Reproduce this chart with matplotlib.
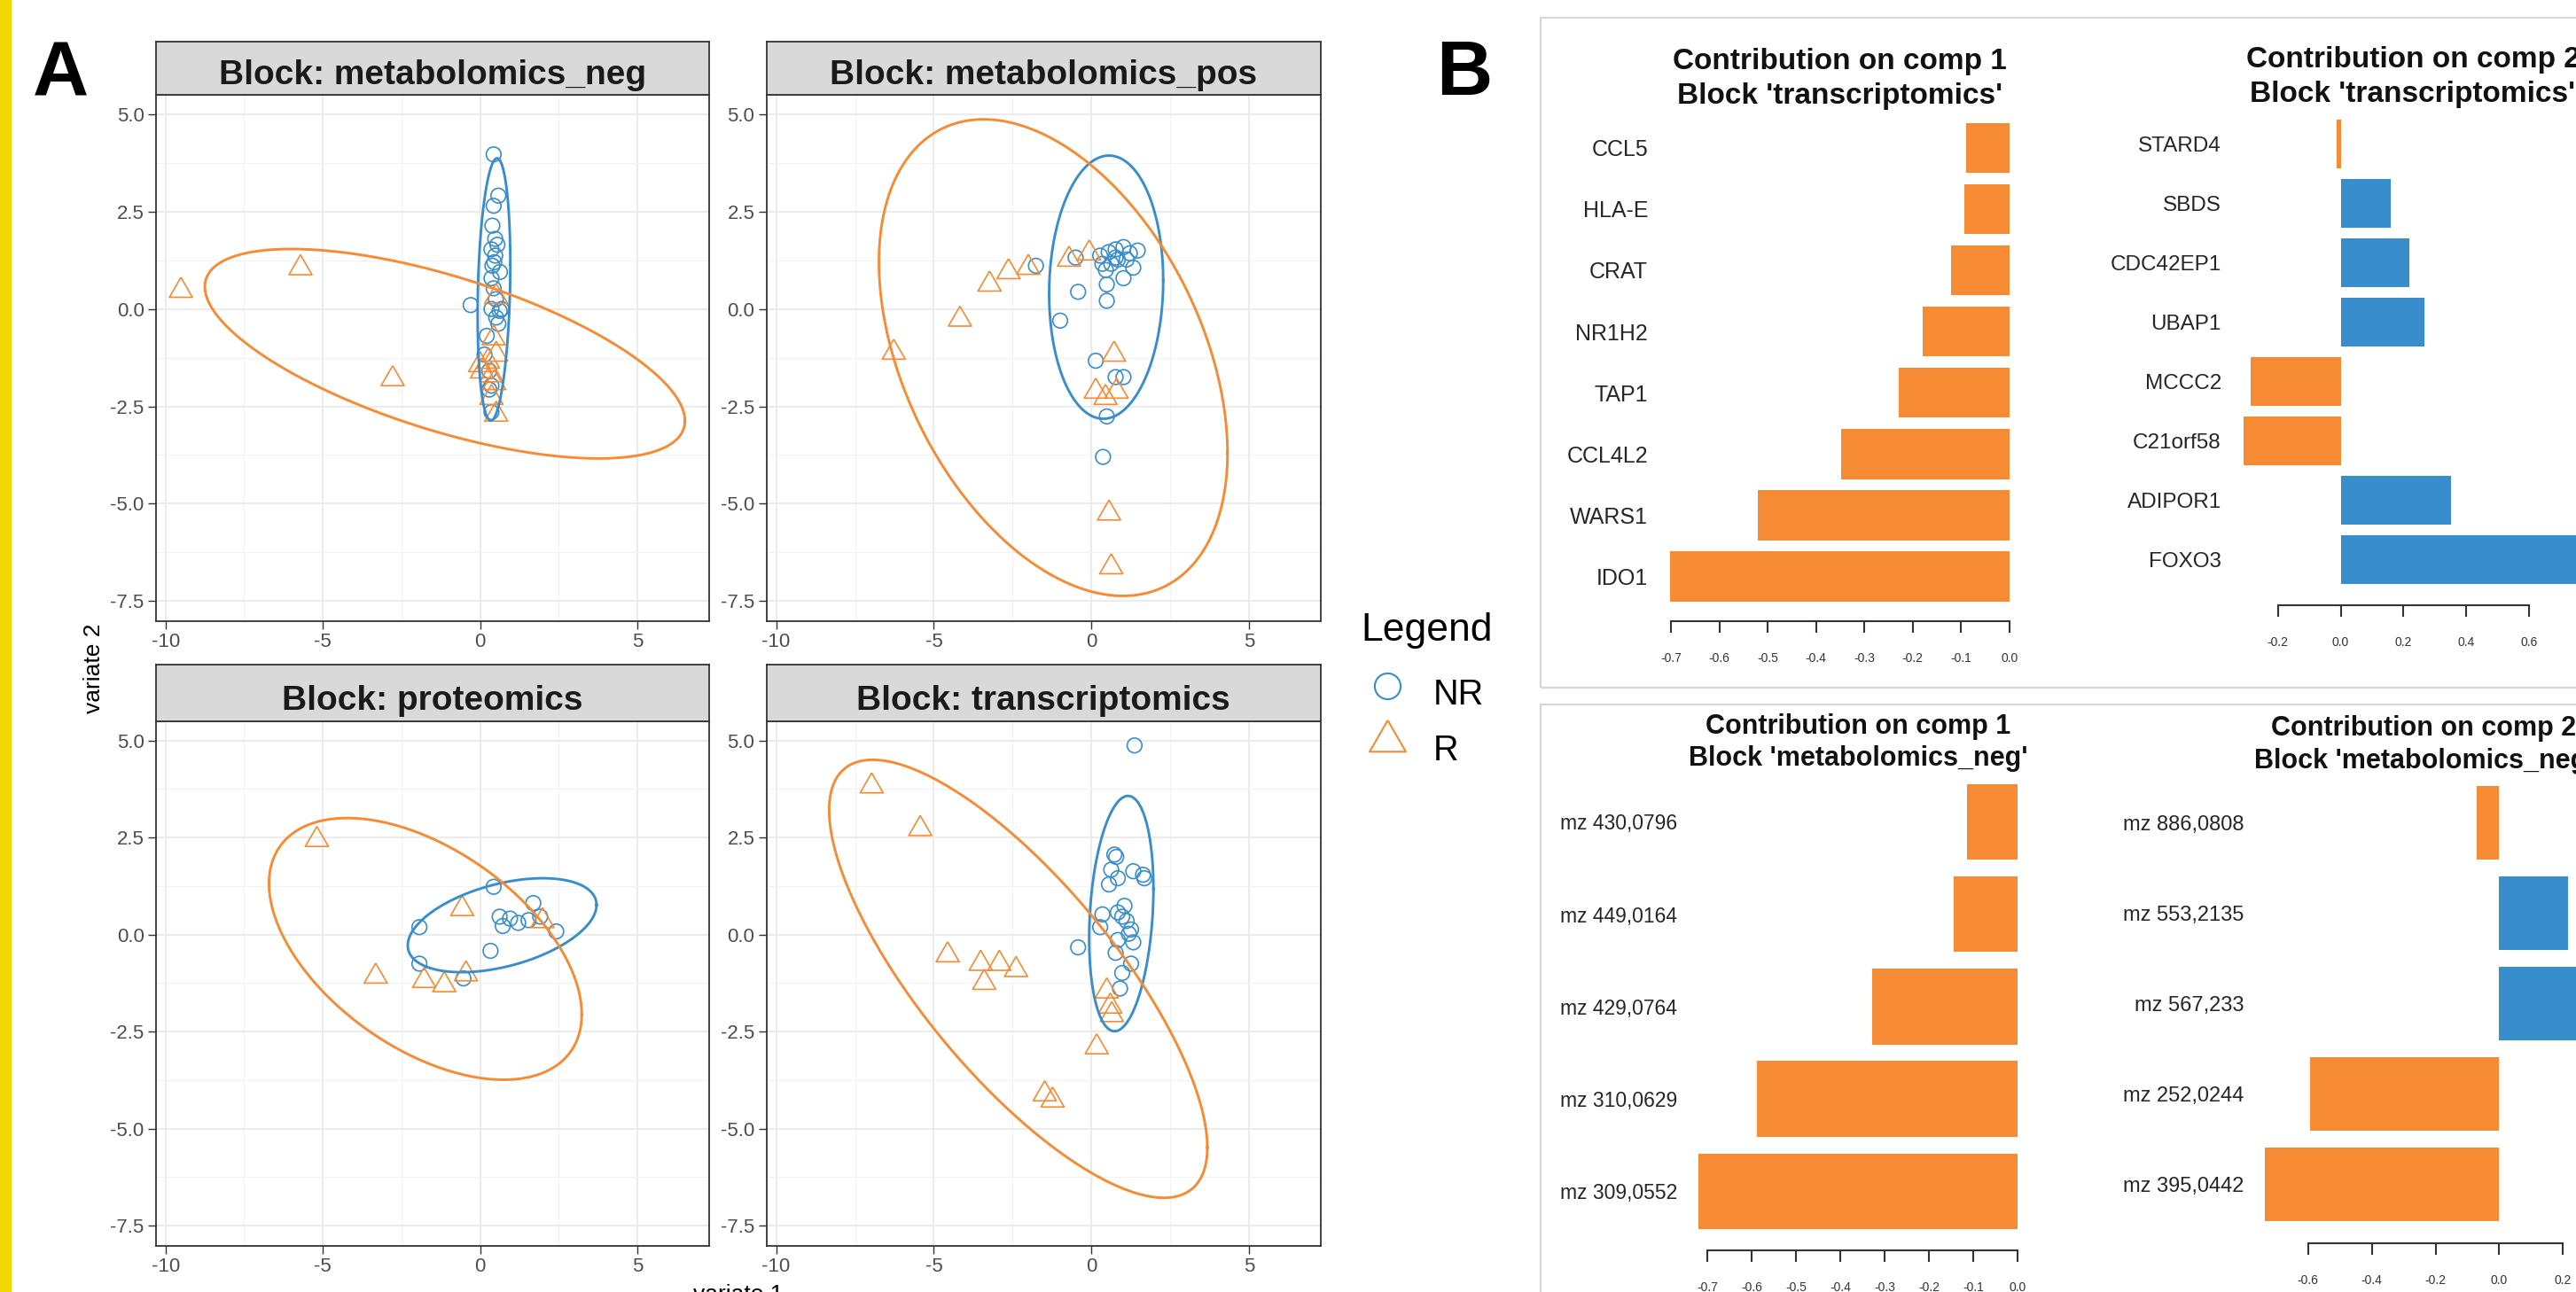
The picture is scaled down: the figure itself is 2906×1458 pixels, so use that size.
import numpy as np
import matplotlib
matplotlib.use("Agg")
import matplotlib.pyplot as plt
from matplotlib.lines import Line2D
from matplotlib.patches import Rectangle

plt.rcParams['font.family'] = ['Liberation Sans', 'DejaVu Sans']
plt.rcParams['axes.unicode_minus'] = False

W, H = 2906, 1458
BLUE = '#388ECC'
ORANGE = '#F68B33'

# ======================= Panel A data (variate 1, variate 2) =======================
block_names = ['metabolomics_neg', 'metabolomics_pos', 'proteomics', 'transcriptomics']
group_names = ['NR', 'R']

neg_nr_x = [0.43, 0.58, 0.43, 0.39, 0.48, 0.36, 0.48, 0.39, 0.63, 0.36, 0.43, -0.30, 0.36, 0.68,
            0.51, 0.58, 0.21, 0.14, 0.29, 0.36, 0.29, 0.36, 0.55, 0.50, 0.62, 0.45]
neg_nr_y = [3.97, 2.91, 2.65, 2.14, 1.80, 1.53, 1.37, 1.11, 0.95, 0.79, 0.53, 0.10, 0.00, 0.00,
            -0.22, -0.38, -0.69, -1.17, -1.59, -1.97, -2.07, -2.65, 1.65, 0.25, -0.05, 1.20]
neg_r_x = [-9.51, -5.71, -2.78, 0.51, 0.43, 0.51, 0.00, 0.06, 0.36, 0.36, 0.51, 0.25, 0.45]
neg_r_y = [0.47, 1.05, -1.80, 0.31, -0.75, -1.17, -1.44, -1.60, -1.70, -2.28, -2.71, -1.35, -1.90]

pos_nr_x = [-1.76, -0.99, -0.42, 0.14, 0.49, 0.49, 0.46, 0.49, 0.37, 0.77, 1.02, -0.50, 0.28,
            0.55, 0.77, 1.02, 1.47, 1.33, 1.02, 0.84, 0.63, 1.12, 1.22, 0.35, 0.77]
pos_nr_y = [1.11, -0.30, 0.44, -1.33, 0.21, 0.63, 1.00, -2.76, -3.80, -1.75, -1.75, 1.32, 1.37,
            1.46, 1.53, 1.59, 1.50, 1.06, 0.79, 1.27, 1.16, 1.27, 1.43, 1.16, 1.32]
pos_r_x = [-6.27, -4.17, -3.23, -2.63, -2.00, -0.71, -0.07, 0.72, 0.14, 0.45, 0.80, 0.56, 0.63]
pos_r_y = [-1.12, -0.27, 0.63, 0.95, 1.06, 1.27, 1.43, -1.17, -2.12, -2.28, -2.12, -5.25, -6.63]

prot_nr_x = [0.43, -1.93, -1.93, -0.53, 0.33, 0.62, 0.95, 0.72, 1.21, 1.54, 1.69, 2.42, 1.91]
prot_nr_y = [1.23, 0.19, -0.75, -1.13, -0.42, 0.46, 0.41, 0.22, 0.30, 0.37, 0.81, 0.08, 0.46]
prot_r_x = [-5.19, -3.32, -0.57, -1.78, -1.14, -0.45, 1.98]
prot_r_y = [2.44, -1.08, 0.66, -1.19, -1.30, -1.02, 0.35]

trans_nr_x = [1.37, -0.42, 0.73, 0.79, 0.63, 0.84, 0.56, 1.33, 1.64, 1.68, 0.35, 0.84, 1.05,
              0.98, 0.28, 1.26, 1.19, 1.33, 0.84, 0.77, 1.26, 0.98, 0.91, 1.12]
trans_nr_y = [4.87, -0.33, 2.06, 2.00, 1.67, 1.45, 1.29, 1.63, 1.54, 1.45, 0.52, 0.57, 0.74,
              0.46, 0.19, 0.13, 0.02, -0.20, -0.14, -0.47, -0.75, -0.99, -1.39, 0.35]
trans_r_x = [-6.97, -5.43, -4.56, -3.51, -2.92, -2.39, -3.40, 0.49, 0.60, 0.65, 0.17, -1.48, -1.23]
trans_r_y = [3.82, 2.72, -0.53, -0.75, -0.75, -0.91, -1.24, -1.46, -1.85, -2.07, -2.90, -4.11, -4.27]

# confidence ellipses: centre x, centre y, half-width (x), half-height (y), correlation
neg_ell_nr = [0.44, 0.50, 0.52, 3.37, 0.19]
neg_ell_r = [-1.12, -1.15, 7.63, 2.69, -0.64]
pos_ell_nr = [0.47, 0.56, 1.81, 3.38, 0.05]
pos_ell_r = [-1.21, -1.25, 5.53, 6.12, -0.40]
prot_ell_nr = [0.70, 0.24, 3.00, 1.21, 0.43]
prot_ell_r = [-1.74, -0.37, 4.97, 3.37, -0.50]
trans_ell_nr = [0.95, 0.54, 1.02, 3.03, 0.21]
trans_ell_r = [-2.32, -1.14, 6.00, 5.64, -0.77]

a_xticks = [-10, -5, 0, 5]
a_yticks = [-7.5, -5.0, -2.5, 0.0, 2.5, 5.0]

# ======================= Panel B data (loadings) =======================
tc1_labels = ['CCL5', 'HLA-E', 'CRAT', 'NR1H2', 'TAP1', 'CCL4L2', 'WARS1', 'IDO1']
tc1_values = [-0.090, -0.094, -0.120, -0.180, -0.229, -0.348, -0.520, -0.702]
tc1_ticks = [-0.7, -0.6, -0.5, -0.4, -0.3, -0.2, -0.1, 0.0]

tc2_labels = ['STARD4', 'SBDS', 'CDC42EP1', 'UBAP1', 'MCCC2', 'C21orf58', 'ADIPOR1', 'FOXO3']
tc2_values = [-0.012, 0.160, 0.218, 0.267, -0.286, -0.310, 0.351, 0.770]
tc2_ticks = [-0.2, 0.0, 0.2, 0.4, 0.6]

mn1_labels = ['mz 430,0796', 'mz 449,0164', 'mz 429,0764', 'mz 310,0629', 'mz 309,0552']
mn1_values = [-0.114, -0.143, -0.328, -0.588, -0.720]
mn1_ticks = [-0.7, -0.6, -0.5, -0.4, -0.3, -0.2, -0.1, 0.0]

mn2_labels = ['mz 886,0808', 'mz 553,2135', 'mz 567,233', 'mz 252,0244', 'mz 395,0442']
mn2_values = [-0.072, 0.215, 0.260, -0.593, -0.735]
mn2_ticks = [-0.6, -0.4, -0.2, 0.0, 0.2]

# ======================= figure =======================
fig = plt.figure(figsize=(W / 100, H / 100), dpi=100)
fig.patch.set_facecolor('white')


def box(l, t, r, b):
    return [l / W, 1 - b / H, (r - l) / W, (b - t) / H]


def ptext(x, y, s, **kw):
    return fig.text(x / W, 1 - y / H, s, **kw)


# yellow side bar
fig.add_artist(Rectangle((0, 0), 12.5 / W, 1, transform=fig.transFigure,
                         facecolor='#F0D800', edgecolor='none'))

# panel letters
ptext(37, 107, 'A', fontsize=63, fontweight='bold', ha='left', va='baseline', color='black')
ptext(1620, 107, 'B', fontsize=63, fontweight='bold', ha='left', va='baseline', color='black')

# ---------------- Panel A ----------------
tri = [(0, 1), (-0.866, -0.5), (0.866, -0.5), (0, 1)]

A_boxes = {
    'metabolomics_neg': (175.7, 46.6, 107.0, 800.0, 700.6),
    'metabolomics_pos': (864.6, 46.6, 107.0, 1490.0, 700.6),
    'proteomics': (175.7, 749.8, 813.6, 800.0, 1405.6),
    'transcriptomics': (864.6, 749.8, 813.6, 1490.0, 1405.6),
}
A_data = {
    'metabolomics_neg': (neg_nr_x, neg_nr_y, neg_r_x, neg_r_y, neg_ell_nr, neg_ell_r),
    'metabolomics_pos': (pos_nr_x, pos_nr_y, pos_r_x, pos_r_y, pos_ell_nr, pos_ell_r),
    'proteomics': (prot_nr_x, prot_nr_y, prot_r_x, prot_r_y, prot_ell_nr, prot_ell_r),
    'transcriptomics': (trans_nr_x, trans_nr_y, trans_r_x, trans_r_y, trans_ell_nr, trans_ell_r),
}

t = np.linspace(0, 2 * np.pi, 400)
for name in block_names:
    l, st, pt, r, pb = A_boxes[name]
    nrx, nry, rx, ry, enr, er = A_data[name]
    ax = fig.add_axes(box(l, pt, r, pb))
    ax.set_xlim(-10.31, 7.28)
    ax.set_ylim(-8.01, 5.50)
    ax.set_xticks(a_xticks)
    ax.set_yticks(a_yticks)
    ax.set_xticks([-7.5, -2.5, 2.5], minor=True)
    ax.set_yticks([-6.25, -3.75, -1.25, 1.25, 3.75], minor=True)
    ax.grid(which='major', color='#EBEBEB', lw=1.4)
    ax.grid(which='minor', color='#F2F2F2', lw=0.8)
    ax.set_axisbelow(True)
    ax.tick_params(which='major', length=6.5, width=1.0, color='#333333',
                   labelsize=16, labelcolor='#4D4D4D', pad=3)
    ax.tick_params(which='minor', length=0)
    for s in ax.spines.values():
        s.set_color('#333333')
        s.set_linewidth(1.3)
    ax.scatter(nrx, nry, s=12 ** 2, marker='o', facecolors='none', edgecolors=BLUE,
               linewidths=1.2, zorder=3)
    ax.scatter(rx, ry, s=21.6 ** 2, marker=tri, facecolors='none', edgecolors=ORANGE,
               linewidths=1.2, zorder=3)
    for e, c in ((enr, BLUE), (er, ORANGE)):
        cx, cy, hw, hh, rr = e
        ex = cx + hw * np.cos(t)
        ey = cy + hh * (rr * np.cos(t) + np.sqrt(1 - rr * rr) * np.sin(t))
        ax.plot(ex, ey, color=c, lw=2.1, zorder=4)
    # strip
    sa = fig.add_axes(box(l, st, r, pt))
    sa.set_facecolor('#D9D9D9')
    sa.set_xticks([])
    sa.set_yticks([])
    for s in sa.spines.values():
        s.set_color('#333333')
        s.set_linewidth(1.3)
    sa.text(0.5, 0.2, 'Block: ' + name, transform=sa.transAxes, ha='center', va='baseline',
            fontsize=28, fontweight='bold', color='#1A1A1A')

ptext(106, 754, 'variate 2', rotation=90, fontsize=19, ha='center', va='center', color='black')
ptext(833, 1449, 'variate 1', fontsize=19, ha='center', va='top', color='black')

# legend
ptext(1535, 723, 'Legend', fontsize=32, ha='left', va='baseline', color='black')
fig.add_artist(Line2D([1565 / W], [1 - 774 / H], transform=fig.transFigure, marker='o',
                      ms=21, mfc='none', mec=BLUE, mew=1.5, ls='none'))
fig.add_artist(Line2D([1565 / W], [1 - 836 / H], transform=fig.transFigure, marker=tri,
                      ms=34, mfc='none', mec=ORANGE, mew=1.5, ls='none'))
ptext(1617, 795, group_names[0], fontsize=28.5, ha='left', va='baseline', color='black')
ptext(1617, 858, group_names[1], fontsize=28.5, ha='left', va='baseline', color='black')

# ---------------- Panel B ----------------
fig.add_artist(Rectangle((1738 / W, 1 - 776 / H), (W + 20 - 1738) / W, (776 - 20) / H,
                         transform=fig.transFigure, fill=False, edgecolor='#D6D6D6', lw=1.6))
fig.add_artist(Rectangle((1738 / W, -0.05), (W + 20 - 1738) / W, 1.05 - 795 / H,
                         transform=fig.transFigure, fill=False, edgecolor='#D6D6D6', lw=1.6))


def bar_chart(bx, labels, values, ticks, pad_y, bar_h, label_fs, title, title_fs, base1, base2):
    l, tp, r, b = bx
    ax = fig.add_axes(box(l, tp, r, b))
    n = len(labels)
    pos = np.arange(n)
    lo, hi = min(0.0, min(values)), max(0.0, max(values))
    ext = 0.04 * (hi - lo)
    ax.set_xlim(lo - ext, hi + ext)
    ax.set_ylim(n - 1 + pad_y, -pad_y)
    cols = [ORANGE if v < 0 else BLUE for v in values]
    ax.barh(pos, values, height=bar_h, color=cols, edgecolor='none')
    ax.patch.set_visible(False)
    for s in ('top', 'right', 'left'):
        ax.spines[s].set_visible(False)
    ax.spines['bottom'].set_bounds(ticks[0], ticks[-1])
    ax.spines['bottom'].set_linewidth(1.5)
    ax.spines['bottom'].set_color('#333333')
    ax.set_yticks(pos)
    ax.set_yticklabels(labels, fontsize=label_fs, color='#262626')
    ax.tick_params(axis='y', length=0, pad=7)
    ax.set_xticks(ticks)
    ax.set_xticklabels([('%.1f' % v).replace('-0.0', '0.0') for v in ticks],
                       fontsize=10, color='#333333')
    ax.tick_params(axis='x', length=9.4, width=1.5, color='#333333', pad=16)
    cx = (l + r) / 2
    ptext(cx, base1, title[0], fontsize=title_fs, fontweight='bold', ha='center',
          va='baseline', color='#111111')
    ptext(cx, base2, title[1], fontsize=title_fs, fontweight='bold', ha='center',
          va='baseline', color='#111111')
    return ax


bar_chart((1868.8, 116.4, 2282.2, 700.8), tc1_labels, tc1_values, tc1_ticks, 0.73, 0.82, 18,
          ('Contribution on comp 1', "Block 'transcriptomics'"), 24, 78.1, 117.0)
bar_chart((2515.5, 111.0, 2928.4, 682.6), tc2_labels, tc2_values, tc2_ticks, 0.77, 0.82, 17.5,
          ('Contribution on comp 2', "Block 'transcriptomics'"), 24, 76.0, 115.5)
bar_chart((1901.8, 860.6, 2290.2, 1411.0), mn1_labels, mn1_values, mn1_ticks, 0.64, 0.82, 16.5,
          ('Contribution on comp 1', "Block 'metabolomics_neg'"), 22, 827.6, 864.3)
bar_chart((2540.9, 862.2, 2927.3, 1402.6), mn2_labels, mn2_values, mn2_ticks, 0.65, 0.82, 17,
          ('Contribution on comp 2', "Block 'metabolomics_neg'"), 22, 829.7, 866.5)

fig.savefig('out.png', dpi=100, facecolor='white')
